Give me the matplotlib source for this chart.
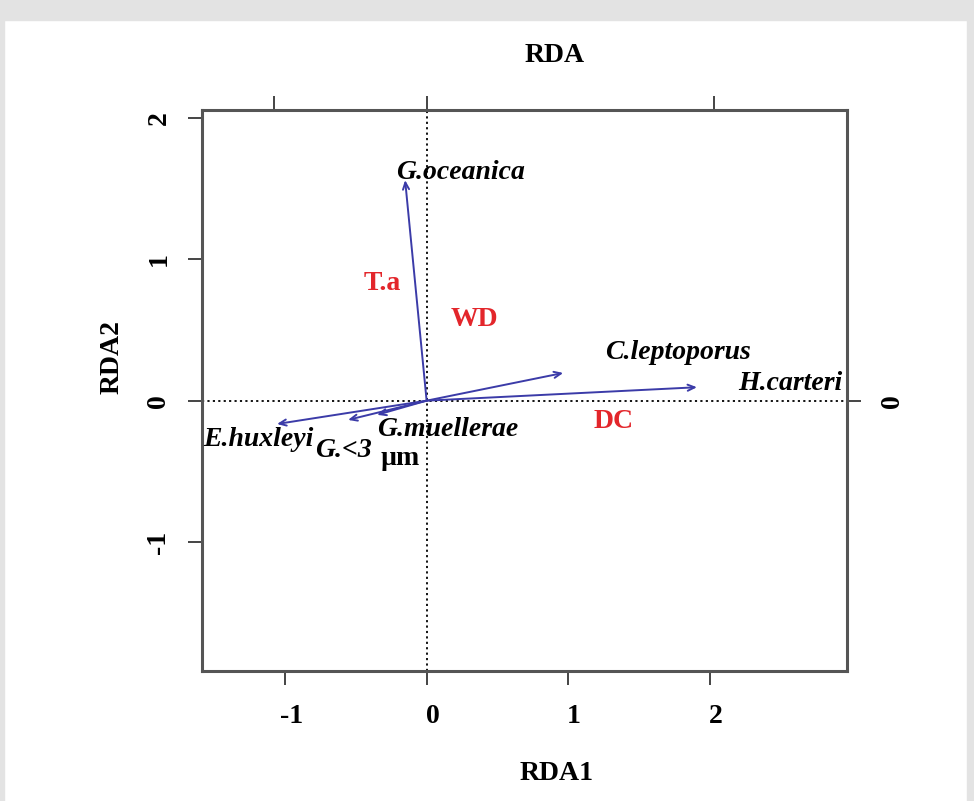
import matplotlib
matplotlib.use("Agg")
import matplotlib.pyplot as plt
from matplotlib.patches import Rectangle
from matplotlib.transforms import ScaledTranslation

# ---- data ----
species = ["G.oceanica", "C.leptoporus", "H.carteri", "E.huxleyi", "G.<3 µm", "G.muellerae"]
arrow_x = [-0.152, 0.965, 1.91, -1.057, -0.555, -0.35]
arrow_y = [1.56, 0.196, 0.095, -0.165, -0.136, -0.10]
label_x = [0.237, 1.777, 2.569, -1.191, -0.59, 0.152]
label_y = [1.617, 0.344, 0.118, -0.278, -0.349, -0.207]

env_names = ["T.a", "WD", "DC"]
env_x = [-0.314, 0.336, 1.318]
env_y = [0.832, 0.571, -0.15]

x_ticks = [-1, 0, 1, 2]
y_ticks = [-1, 0, 1, 2]
top_ticks = [-1.08, 0, 2.03]
right_ticks = [0]

xlim = (-1.587, 2.97)
ylim = (-1.91, 2.056)

W, H = 974, 801
fig = plt.figure(figsize=(W / 100, H / 100), dpi=100)
fig.patch.set_facecolor("white")
# gray frame
gray = "#E3E3E3"
fig.patches.append(Rectangle((0, 1 - 20 / H), 1, 20 / H, transform=fig.transFigure, color=gray, zorder=0))
fig.patches.append(Rectangle((0, 0), 4 / W, 1, transform=fig.transFigure, color=gray, zorder=0))
fig.patches.append(Rectangle((1 - 7 / W, 0), 7 / W, 1, transform=fig.transFigure, color=gray, zorder=0))

ax = fig.add_axes([202 / W, (H - 670.7) / H, (847 - 202) / W, (670.7 - 110) / H])
ax.set_xlim(*xlim)
ax.set_ylim(*ylim)

spine_col = "#555555"
for s in ax.spines.values():
    s.set_linewidth(2.2)
    s.set_color(spine_col)

serif = ["Liberation Serif", "DejaVu Serif"]
fs = 20

ax.set_xticks(x_ticks)
ax.set_xticklabels([str(t) for t in x_ticks], fontfamily=serif, fontweight="bold", fontsize=fs)
ax.set_yticks(y_ticks)
ax.set_yticklabels([str(t) for t in y_ticks], fontfamily=serif, fontweight="bold", fontsize=fs,
                   rotation=90, va="center")
ax.tick_params(axis="both", direction="out", length=10, width=1.4, color="#444444", pad=14)
ax.tick_params(axis="y", pad=12)
shift = ScaledTranslation(6 / 100, 0, fig.dpi_scale_trans)
for lab in ax.get_xticklabels():
    lab.set_transform(lab.get_transform() + shift)

# top axis ticks (no labels)
ax_top = ax.secondary_xaxis("top")
ax_top.set_xticks(top_ticks)
ax_top.set_xticklabels([])
ax_top.tick_params(direction="out", length=10, width=1.4, color="#444444")
ax_top.spines["top"].set_visible(False)

ax_r = ax.secondary_yaxis("right")
ax_r.set_yticks(right_ticks)
ax_r.set_yticklabels([str(t) for t in right_ticks], fontfamily=serif, fontweight="bold",
                     fontsize=fs, rotation=90, va="center")
ax_r.tick_params(direction="out", length=10, width=1.4, color="#444444", pad=14)
ax_r.spines["right"].set_visible(False)

# dotted zero lines
ax.axhline(0, color="black", linestyle=(0, (1.2, 1.8)), linewidth=1.3, zorder=1)
ax.axvline(0, color="black", linestyle=(0, (1.2, 1.8)), linewidth=1.3, zorder=1)

arrow_col = "#3B3BA8"
for x, y in zip(arrow_x, arrow_y):
    ax.annotate("", xy=(x, y), xytext=(0, 0),
                arrowprops=dict(arrowstyle="->,head_length=0.5,head_width=0.22",
                                color=arrow_col, lw=1.4, shrinkA=0, shrinkB=0), zorder=3)

for name, x, y in zip(species, label_x, label_y):
    if name == "G.<3 µm":
        ax.text(x, y, "G.<3", fontfamily=serif, fontweight="bold", fontstyle="italic",
                fontsize=fs, ha="center", va="center", zorder=4)
        ax.text(-0.187, -0.41, "µm", fontfamily=serif, fontweight="bold",
                fontsize=fs, ha="center", va="center", zorder=4)
    else:
        ax.text(x, y, name, fontfamily=serif, fontweight="bold", fontstyle="italic",
                fontsize=fs, ha="center", va="center", zorder=4)

red = "#E3262B"
for name, x, y in zip(env_names, env_x, env_y):
    ax.text(x, y, name, fontfamily=serif, fontweight="bold", color=red,
            fontsize=fs, ha="center", va="center", zorder=4)

# titles
fig.text(555 / W, 1 - 55 / H, "RDA", fontfamily=serif, fontweight="bold", fontsize=fs,
         ha="center", va="center")
fig.text(557 / W, 1 - 773 / H, "RDA1", fontfamily=serif, fontweight="bold", fontsize=fs,
         ha="center", va="center")
fig.text(112 / W, 1 - 357 / H, "RDA2", fontfamily=serif, fontweight="bold", fontsize=fs,
         ha="center", va="center", rotation=90)

fig.savefig("out.png", dpi=100, facecolor=fig.get_facecolor())
